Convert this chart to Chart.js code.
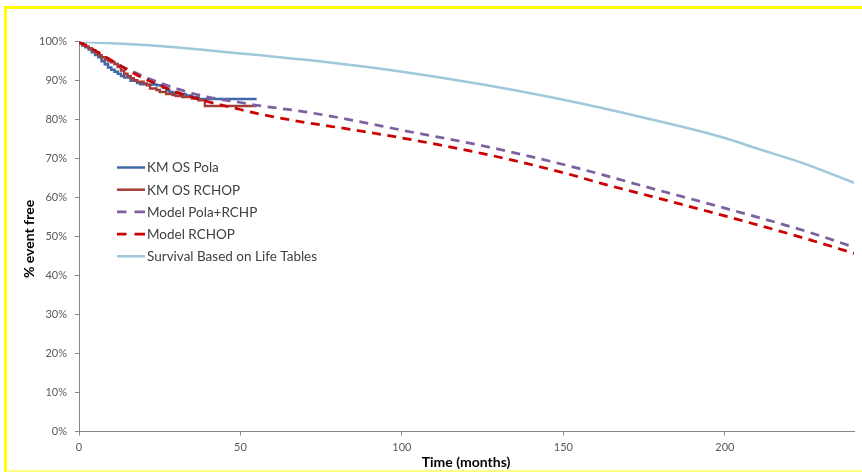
<!DOCTYPE html>
<html>
<head>
<meta charset="utf-8">
<script src="https://cdn.jsdelivr.net/npm/chart.js@4.4.1/dist/chart.umd.min.js"></script>
<style>
  body { margin: 0; background: #fff; overflow: hidden; }
  .wrap { position: relative; width: 862px; height: 472px; overflow: hidden; }
  .frame {
    position: absolute; left: 4px; top: 6px; width: 880px; height: 461px;
    border-top: 3px solid #ffff00; border-left: 3px solid #ffff00; border-bottom: 2px solid #ffff80;
  }
  canvas { position: absolute; left: 0; top: 0; }
</style>
</head>
<body>
<div class="wrap">
  <div class="frame"></div>
  <canvas id="survChart" width="862" height="472"></canvas>
</div>
<script>
// months / % event free
const kmPolaT = [0, 1, 2, 3, 4, 5, 6, 7, 8, 9, 10, 11, 12, 13, 14, 16, 18, 19, 21, 24, 26, 27, 28, 29, 31, 33, 35, 37, 39, 55];
const kmPolaS = [100, 99.5, 99, 98.6, 98, 97.3, 96.6, 96, 95, 94.2, 93.4, 92.8, 92.3, 91.8, 91.2, 90.8, 90, 89.4, 89.1, 89, 88.8, 88.2, 87.6, 87.1, 86.9, 86.6, 86.2, 85.8, 85.3, 85.3];

const kmRchopT = [0, 1, 2, 3, 4, 5, 6, 7, 8, 9, 10, 11, 12, 13, 14, 15, 16, 17, 18, 20, 21, 22, 24, 25, 27, 29, 30, 32, 35, 37, 39, 41, 55];
const kmRchopS = [100, 99.6, 99.2, 98.8, 98.3, 97.8, 97.2, 96.5, 96, 95.5, 95, 94.7, 94.3, 93.5, 92.6, 91.8, 91.2, 90.6, 90.1, 89.7, 89.3, 88.8, 88, 87.6, 87.1, 86.6, 86.3, 86.1, 85.8, 85.4, 85, 83.5, 83.5];

const modelT = [0, 5, 10, 15, 20, 25, 30, 40, 50, 55, 70, 85, 100, 125, 150, 162, 175, 200, 225, 240];
const modelPolaS = [100, 97.6, 95.2, 93, 91.1, 89.5, 88, 85.8, 84.4, 83.7, 82, 79.8, 77.3, 73.3, 68.5, 65.9, 62.9, 57.3, 51.4, 47.3];
const modelRchopS = [100, 97.7, 95.2, 92.8, 90.6, 88.8, 87.1, 84.6, 82.6, 81.6, 79.3, 77.4, 75.3, 71.3, 66.4, 63.6, 60.8, 55.3, 49.5, 45.7];

const lifeT = [0, 25, 50, 75, 100, 125, 150, 175, 200, 210, 225, 240];
const lifeS = [100, 98.9, 97.0, 94.9, 92.3, 89.0, 85.1, 80.5, 75.3, 72.6, 68.6, 63.8];

const xTicks = [0, 50, 100, 150, 200];
const seriesNames = ['KM OS Pola', 'KM OS RCHOP', 'Model Pola+RCHP', 'Model RCHOP', 'Survival Based on Life Tables'];

const pts = (t, s) => t.map((v, i) => ({ x: v, y: s[i] }));

// legend drawn inside the plot, plus both axis titles
const overlay = {
  id: 'overlay',
  afterDraw(chart) {
    const ctx = chart.ctx;
    ctx.save();
    ctx.font = '13.5px Lato';
    ctx.textBaseline = 'middle';
    chart.data.datasets.forEach((ds, i) => {
      const y = 167.5 + i * 22.2;
      ctx.strokeStyle = ds.borderColor;
      ctx.lineWidth = ds.borderWidth;
      ctx.beginPath();
      if (ds.borderDash) {
        ctx.moveTo(117, y); ctx.lineTo(126.5, y);
        ctx.moveTo(134.5, y); ctx.lineTo(145, y);
      } else {
        ctx.moveTo(117, y); ctx.lineTo(145, y);
      }
      ctx.stroke();
      ctx.fillStyle = '#404040';
      ctx.fillText(ds.label, 147, y + 0.5);
    });

    ctx.fillStyle = '#000';
    ctx.font = 'bold 14px Lato';
    ctx.textAlign = 'center';
    ctx.fillText('Time (months)', 466, 462);
    ctx.translate(29, 239);
    ctx.rotate(-Math.PI / 2);
    ctx.fillText('% event free', 0, 0);
    ctx.restore();
  }
};

const ctx = document.getElementById('survChart');
new Chart(ctx, {
  type: 'line',
  data: {
    datasets: [
      { label: seriesNames[0], data: pts(kmPolaT, kmPolaS), borderColor: '#3d69a8', borderWidth: 2.5, stepped: 'after', order: 3 },
      { label: seriesNames[1], data: pts(kmRchopT, kmRchopS), borderColor: '#a63c37', borderWidth: 2.5, stepped: 'after', order: 2 },
      { label: seriesNames[2], data: pts(modelT, modelPolaS), borderColor: '#7d60a0', borderWidth: 2.75, borderDash: [9, 6.5], cubicInterpolationMode: 'monotone', order: 1 },
      { label: seriesNames[3], data: pts(modelT, modelRchopS), borderColor: '#cc0000', borderWidth: 2.75, borderDash: [9, 6.5], cubicInterpolationMode: 'monotone', order: 0 },
      { label: seriesNames[4], data: pts(lifeT, lifeS), borderColor: '#9fc8da', borderWidth: 2.5, cubicInterpolationMode: 'monotone', order: 4 }
    ]
  },
  options: {
    responsive: false,
    animation: false,
    layout: { padding: { left: 34, top: 41.7, right: 8, bottom: 0 } },
    elements: { point: { radius: 0 } },
    plugins: { legend: { display: false }, tooltip: { enabled: false } },
    scales: {
      x: {
        type: 'linear',
        min: 0,
        max: 240,
        afterFit: (scale) => { scale.height = 40.5; },
        afterBuildTicks: (scale) => { scale.ticks = xTicks.map(v => ({ value: v })); },
        ticks: { autoSkip: false, maxRotation: 0, padding: 5, color: '#595959', font: { family: 'Lato', size: 11 } },
        grid: { drawOnChartArea: false, drawTicks: true, tickLength: 4, color: '#868686' },
        border: { display: true, color: '#868686' }
      },
      y: {
        min: 0,
        max: 100,
        afterFit: (scale) => { scale.width = 45; },
        ticks: { stepSize: 10, padding: 8, color: '#595959', font: { family: 'Lato', size: 11 }, callback: v => v + '%' },
        grid: { drawOnChartArea: false, drawTicks: true, tickLength: 4, color: '#868686' },
        border: { display: true, color: '#868686' }
      }
    }
  },
  plugins: [overlay]
});
</script>
</body>
</html>
